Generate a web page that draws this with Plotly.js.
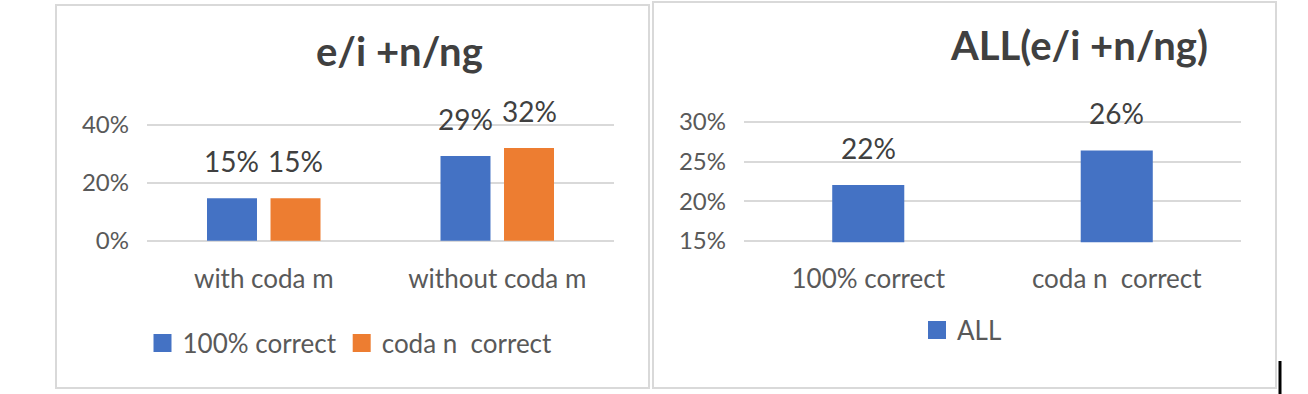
<!DOCTYPE html>
<html><head><meta charset="utf-8">
<script src="https://cdn.plot.ly/plotly-3.0.1.min.js"></script>
<style>html,body{margin:0;padding:0;background:#fff;overflow:hidden}#chart{width:1308px;height:394px}</style>
</head><body><div id="chart"></div>
<script>
// ---- data ----
const leftTitle = 'e/i +n/ng';
const leftCategories = ['with coda m', 'without coda m'];
const leftSeriesNames = ['100% correct', 'coda n\u00a0 correct'];
const left100Correct = [0.146, 0.292];
const leftCodaNCorrect = [0.146, 0.320];
const leftTicks = [0, 0.2, 0.4];

const rightTitle = 'ALL(e/i +n/ng)';
const rightCategories = ['100% correct', 'coda n\u00a0 correct'];
const rightSeriesName = 'ALL';
const rightAll = [0.2205, 0.264];
const rightTicks = [0.15, 0.20, 0.25, 0.30];

// ---- style ----
const W = 1308, H = 394;
const BLUE = '#4472C4', ORANGE = '#ED7D31';
const FONT = 'Lato, "Open Sans", sans-serif';
const GRID = '#d9d9d9';
const TICK_COLOR = '#595959', LABEL_COLOR = '#404040';
const BARGAP = 0.456, BARGROUPGAP = 0.213;
const RIGHT_BAR_WIDTH = 0.29;
const LABEL_SHIFT = 18;
const px = v => v / W, py = v => 1 - v / H;
const pct = v => Math.round(v * 100) + '%';

// pad an axis range a little so the edge gridlines are drawn, and grow the domain to match
function padded(lo, hi, pxLo, pxHi, padPx) {
  const perPx = (hi - lo) / (pxLo - pxHi);
  const e = perPx * padPx;
  return {range: [lo - e, hi + e], domain: [py(pxLo + padPx), py(pxHi - padPx)]};
}
const leftY = padded(leftTicks[0], leftTicks[leftTicks.length - 1], 240.7, 124.7, 1.5);
const rightY = padded(rightTicks[0], rightTicks[rightTicks.length - 1], 240.7, 122, 1.5);

const leftSeries = [
  {name: leftSeriesNames[0], values: left100Correct, color: BLUE},
  {name: leftSeriesNames[1], values: leftCodaNCorrect, color: ORANGE}
];

const legendKey = (name, color, axisSuffix, legendId) => ({
  type: 'scatter', mode: 'markers', x: [null], y: [null], name: name,
  marker: {symbol: 'square', size: 16, color: color, line: {width: 2, color: color}},
  xaxis: 'x' + axisSuffix, yaxis: 'y' + axisSuffix, legend: legendId, showlegend: true, hoverinfo: 'skip'
});

const traces = leftSeries.map(s => ({
  type: 'bar', x: leftCategories, y: s.values, name: s.name, showlegend: false,
  marker: {color: s.color}, xaxis: 'x', yaxis: 'y', hoverinfo: 'skip'
}));
traces.push({
  type: 'bar', x: rightCategories, y: rightAll, name: rightSeriesName, showlegend: false,
  marker: {color: BLUE}, width: RIGHT_BAR_WIDTH, xaxis: 'x2', yaxis: 'y2', hoverinfo: 'skip'
});
leftSeries.forEach(s => traces.push(legendKey(s.name, s.color, '', 'legend')));
traces.push(legendKey(rightSeriesName, BLUE, '2', 'legend2'));

const annotations = [];
const n = leftSeries.length;
leftSeries.forEach((s, i) => s.values.forEach((v, j) => annotations.push({
  xref: 'x', yref: 'y', x: j + (i - (n - 1) / 2) * (1 - BARGAP) / n, y: v,
  text: pct(v), showarrow: false, yanchor: 'bottom', yshift: LABEL_SHIFT,
  font: {family: FONT, size: 28, color: LABEL_COLOR}
})));
rightAll.forEach((v, j) => annotations.push({
  xref: 'x2', yref: 'y2', x: j, y: v, text: pct(v), showarrow: false,
  yanchor: 'bottom', yshift: LABEL_SHIFT,
  font: {family: FONT, size: 28, color: LABEL_COLOR}
}));
annotations.push({xref: 'paper', yref: 'paper', x: px(399), y: py(51), text: '<b>' + leftTitle + '</b>',
  showarrow: false, xanchor: 'center', yanchor: 'middle', font: {family: FONT, size: 40, color: LABEL_COLOR}});
annotations.push({xref: 'paper', yref: 'paper', x: px(1079), y: py(45), text: '<b>' + rightTitle + '</b>',
  showarrow: false, xanchor: 'center', yanchor: 'middle', font: {family: FONT, size: 40, color: LABEL_COLOR}});

const xAxisBase = {type: 'category', showgrid: false, zeroline: false, showline: false, ticks: '',
  tickfont: {family: FONT, size: 26, color: TICK_COLOR}, ticklabelstandoff: 19, fixedrange: true};
const yAxisBase = {showgrid: true, gridcolor: GRID, gridwidth: 2, zeroline: false, showline: false, ticks: '',
  tickformat: '.0%', tickfont: {family: FONT, size: 24, color: TICK_COLOR}, ticklabelstandoff: 17, fixedrange: true};

const layout = {
  width: W, height: H, margin: {l: 0, r: 0, t: 0, b: 0},
  paper_bgcolor: '#fff', plot_bgcolor: '#fff',
  barmode: 'group', bargap: BARGAP, bargroupgap: BARGROUPGAP,
  xaxis: Object.assign({}, xAxisBase, {domain: [px(147), px(614)], anchor: 'y'}),
  yaxis: Object.assign({}, yAxisBase, {domain: leftY.domain, anchor: 'x', range: leftY.range, tickvals: leftTicks}),
  xaxis2: Object.assign({}, xAxisBase, {domain: [px(744), px(1241)], anchor: 'y2'}),
  yaxis2: Object.assign({}, yAxisBase, {domain: rightY.domain, anchor: 'x2', range: rightY.range, tickvals: rightTicks}),
  legend: {orientation: 'h', x: px(350), xanchor: 'center', y: py(343), yanchor: 'middle',
    font: {family: FONT, size: 26, color: TICK_COLOR}, bgcolor: 'rgba(0,0,0,0)'},
  legend2: {orientation: 'h', x: px(962), xanchor: 'center', y: py(330), yanchor: 'middle',
    font: {family: FONT, size: 26, color: TICK_COLOR}, bgcolor: 'rgba(0,0,0,0)'},
  annotations: annotations,
  shapes: [
    {type: 'rect', xref: 'paper', yref: 'paper', x0: px(56), x1: px(649), y0: py(388), y1: py(5), line: {color: GRID, width: 2}},
    {type: 'rect', xref: 'paper', yref: 'paper', x0: px(653), x1: px(1276), y0: py(388), y1: py(2), line: {color: GRID, width: 2}},
    {type: 'line', xref: 'paper', yref: 'paper', x0: px(1280), x1: px(1280), y0: py(361), y1: py(394), line: {color: '#000', width: 3}}
  ],
  showlegend: true
};

Plotly.newPlot('chart', traces, layout, {staticPlot: true, displayModeBar: false});
</script>
</body></html>
